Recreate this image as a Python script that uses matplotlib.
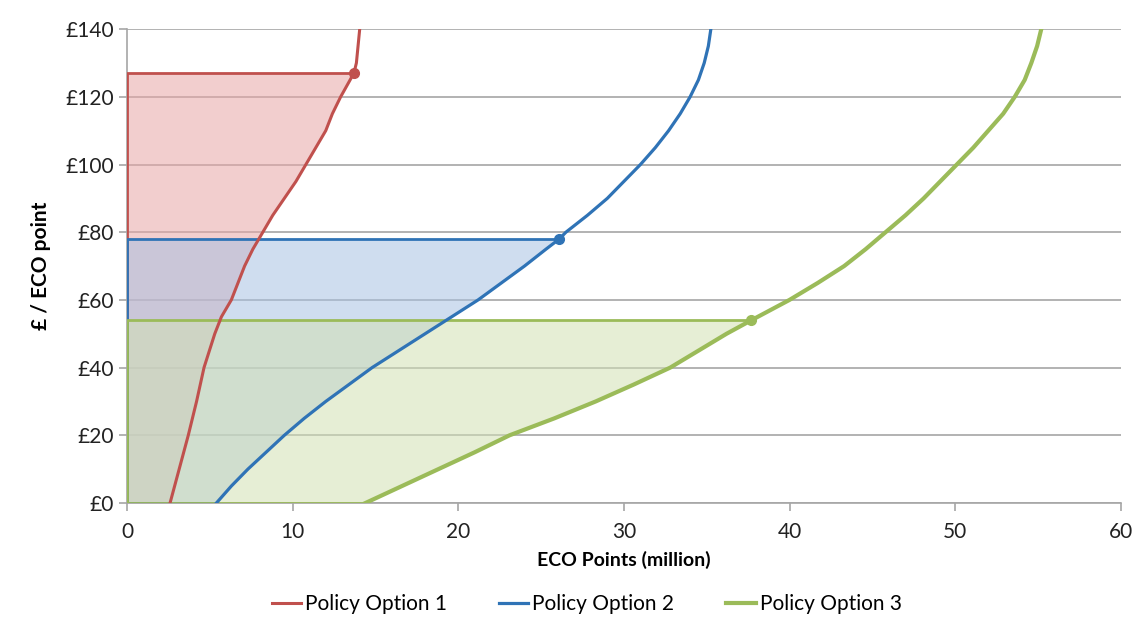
import numpy as np
import matplotlib.pyplot as plt

plt.rcParams['font.family'] = ['Lato', 'DejaVu Sans']

# cost curves: x = ECO points (million), y = £ / ECO point
y1 = [0, 10, 20, 30, 40, 50, 55, 60, 65, 70, 75, 80, 85, 90, 95, 100, 105, 110, 115, 120, 127, 130, 135, 140]
x1 = [2.6, 3.15, 3.7, 4.2, 4.65, 5.3, 5.7, 6.3, 6.7, 7.1, 7.6, 8.2, 8.8, 9.5, 10.2, 10.8, 11.4, 12.0, 12.4, 12.9, 13.7, 13.85, 13.95, 14.05]

y2 = [0, 5, 10, 15, 20, 25, 30, 35, 40, 45, 50, 55, 60, 65, 70, 75, 78, 80, 85, 90, 95, 100, 105, 110, 115, 120, 125, 130, 135, 140]
x2 = [5.4, 6.3, 7.3, 8.4, 9.5, 10.7, 12.0, 13.4, 14.8, 16.4, 18.0, 19.6, 21.2, 22.6, 24.0, 25.3, 26.1, 26.5, 27.8, 29.0, 30.0, 31.0, 31.9, 32.7, 33.4, 34.0, 34.5, 34.85, 35.1, 35.25]

y3 = [0, 5, 10, 15, 20, 25, 30, 35, 40, 45, 50, 54, 60, 65, 70, 75, 80, 85, 90, 95, 100, 105, 110, 115, 120, 125, 130, 135, 140]
x3 = [14.4, 16.6, 18.8, 21.0, 23.1, 25.8, 28.3, 30.6, 32.8, 34.5, 36.2, 37.7, 40.0, 41.7, 43.3, 44.6, 45.8, 47.0, 48.1, 49.1, 50.1, 51.1, 52.0, 52.9, 53.6, 54.2, 54.6, 54.95, 55.2]

# marker points (end of shaded area)
mark_x = [13.7, 26.1, 37.7]
mark_y = [127, 78, 54]

names = ['Policy Option 1', 'Policy Option 2', 'Policy Option 3']
colors = ['#C0504D', '#2F73B6', '#9BBB59']
fills = ['#E9A7A6', '#A9C1E2', '#D2E0B4']
widths = [2.2, 2.3, 3.0]

fig = plt.figure(figsize=(11.39, 6.33), dpi=100)
ax = fig.add_axes([0.1115, 0.2054, 0.8725, 0.7486])

for xs, ys, mx, my, c, f, w, n in zip([x1, x2, x3], [y1, y2, y3], mark_x, mark_y, colors, fills, widths, names):
    xs = np.array(xs)
    ys = np.array(ys)
    sel = ys < my
    yy = np.append(ys[sel], my)
    xx = np.append(xs[sel], mx)
    ax.fill_betweenx(yy, 0, xx, color=f, alpha=0.55, lw=0, zorder=2)
    ax.plot([xs[0], 0, 0, mx], [0, 0, my, my], color=c, lw=2, zorder=3)
    ax.plot(xs, ys, color=c, lw=w, label=n, zorder=4)
    ax.plot([mx], [my], 'o', color=c, ms=7, zorder=5)

ax.set_xlim(0, 60)
ax.set_ylim(0, 140)
ax.set_xticks(range(0, 61, 10))
ax.set_yticks(range(0, 141, 20))
ax.set_yticklabels(['£%d' % v for v in range(0, 141, 20)])
ax.grid(axis='y', color='#A6A6A6', lw=1.2, zorder=1)
ax.set_axisbelow(True)
for s in ['top', 'right']:
    ax.spines[s].set_visible(False)
for s in ['left', 'bottom']:
    ax.spines[s].set_color('#A6A6A6')
    ax.spines[s].set_linewidth(1.2)
ax.tick_params(axis='both', colors='#A6A6A6', labelcolor='#222222', labelsize=15, length=6, width=1.2)
ax.tick_params(axis='x', pad=8)

ax.set_xlabel('ECO Points (million)', fontsize=14, fontweight='bold', labelpad=6)
ax.set_ylabel('£ / ECO point', fontsize=15, fontweight='bold', labelpad=10)

fig.legend(loc='lower center', bbox_to_anchor=(0.515, 0.0), ncol=3, frameon=False,
           fontsize=15, handlelength=1.4, handletextpad=0.2, columnspacing=2.5)

plt.savefig('out.png', dpi=100)
